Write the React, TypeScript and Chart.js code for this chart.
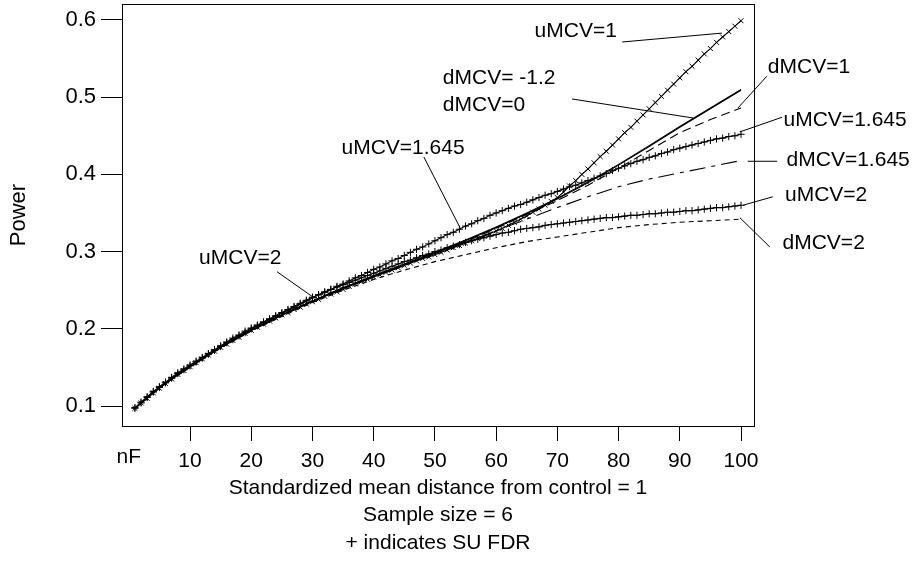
import React, { useEffect, useRef } from "react";
import { Chart, registerables } from "chart.js";

Chart.register(...registerables);

const FONT = "'Liberation Sans', Arial, Helvetica, sans-serif";

// nF = 1..100 (number of false hypotheses) for the SU FDR (marker) series
const nF = Array.from({ length: 100 }, (_, i) => i + 1);
// coarse nF grid for the line-only series
const nFCoarse = [1, 5, 10, 15, 20, 25, 30, 35, 40, 45, 50, 55, 60, 65, 70, 75, 80, 85, 90, 95, 100];

const uMCV1 = [
  0.097, 0.104, 0.110, 0.117, 0.123, 0.129, 0.135, 0.141, 0.146, 0.151,
  0.156, 0.161, 0.166, 0.171, 0.176, 0.180, 0.185, 0.189, 0.194, 0.198,
  0.202, 0.206, 0.210, 0.214, 0.218, 0.221, 0.225, 0.228, 0.232, 0.235,
  0.238, 0.242, 0.245, 0.248, 0.251, 0.255, 0.258, 0.261, 0.264, 0.267,
  0.270, 0.273, 0.276, 0.279, 0.282, 0.285, 0.288, 0.291, 0.293, 0.296,
  0.299, 0.302, 0.305, 0.308, 0.311, 0.314, 0.317, 0.320, 0.323, 0.327,
  0.330, 0.334, 0.338, 0.342, 0.346, 0.351, 0.355, 0.360, 0.365, 0.370,
  0.377, 0.385, 0.392, 0.400, 0.407, 0.415, 0.423, 0.430, 0.438, 0.446,
  0.454, 0.461, 0.469, 0.477, 0.485, 0.493, 0.501, 0.509, 0.517, 0.525,
  0.533, 0.540, 0.548, 0.556, 0.563, 0.571, 0.578, 0.585, 0.592, 0.599,
];

const uMCV1645 = [
  0.097, 0.104, 0.111, 0.118, 0.124, 0.130, 0.136, 0.142, 0.147, 0.152,
  0.157, 0.162, 0.167, 0.172, 0.177, 0.182, 0.186, 0.191, 0.195, 0.200,
  0.204, 0.208, 0.212, 0.216, 0.220, 0.224, 0.228, 0.232, 0.236, 0.240,
  0.244, 0.247, 0.251, 0.255, 0.258, 0.262, 0.266, 0.269, 0.273, 0.277,
  0.280, 0.284, 0.288, 0.291, 0.295, 0.299, 0.303, 0.306, 0.310, 0.314,
  0.318, 0.322, 0.325, 0.329, 0.333, 0.336, 0.340, 0.343, 0.347, 0.350,
  0.353, 0.356, 0.359, 0.361, 0.364, 0.367, 0.370, 0.373, 0.375, 0.378,
  0.381, 0.384, 0.386, 0.389, 0.392, 0.395, 0.398, 0.401, 0.405, 0.408,
  0.411, 0.414, 0.417, 0.419, 0.422, 0.424, 0.427, 0.429, 0.432, 0.434,
  0.436, 0.438, 0.440, 0.442, 0.444, 0.446, 0.447, 0.449, 0.450, 0.452,
];

const uMCV2 = [
  0.098, 0.105, 0.112, 0.119, 0.125, 0.131, 0.137, 0.143, 0.148, 0.153,
  0.158, 0.163, 0.168, 0.173, 0.178, 0.183, 0.188, 0.192, 0.197, 0.201,
  0.205, 0.209, 0.213, 0.217, 0.221, 0.225, 0.229, 0.233, 0.237, 0.241,
  0.244, 0.248, 0.251, 0.254, 0.257, 0.260, 0.263, 0.266, 0.269, 0.272,
  0.275, 0.278, 0.281, 0.284, 0.287, 0.289, 0.292, 0.295, 0.297, 0.300,
  0.302, 0.305, 0.307, 0.309, 0.312, 0.314, 0.316, 0.318, 0.320, 0.322,
  0.324, 0.325, 0.327, 0.329, 0.330, 0.331, 0.332, 0.334, 0.335, 0.336,
  0.337, 0.338, 0.339, 0.340, 0.341, 0.342, 0.343, 0.344, 0.344, 0.345,
  0.346, 0.347, 0.347, 0.348, 0.349, 0.349, 0.350, 0.351, 0.351, 0.352,
  0.353, 0.353, 0.354, 0.355, 0.356, 0.357, 0.357, 0.358, 0.359, 0.360,
];

const dMCVm12 = [0.097, 0.124, 0.151, 0.176, 0.198, 0.218, 0.236, 0.253, 0.268, 0.283, 0.298, 0.314, 0.331, 0.349, 0.368, 0.389, 0.412, 0.436, 0.461, 0.485, 0.509];
const dMCV0 = [0.097, 0.124, 0.151, 0.176, 0.198, 0.218, 0.236, 0.253, 0.269, 0.284, 0.299, 0.315, 0.332, 0.350, 0.369, 0.390, 0.413, 0.437, 0.462, 0.486, 0.510];
const dMCV1 = [0.097, 0.124, 0.151, 0.176, 0.198, 0.218, 0.236, 0.253, 0.268, 0.283, 0.298, 0.313, 0.330, 0.348, 0.366, 0.386, 0.408, 0.431, 0.454, 0.471, 0.486];
const dMCV1645 = [0.097, 0.124, 0.151, 0.176, 0.198, 0.218, 0.236, 0.252, 0.267, 0.282, 0.297, 0.312, 0.327, 0.342, 0.357, 0.371, 0.384, 0.394, 0.402, 0.410, 0.418];
const dMCV2 = [0.097, 0.124, 0.150, 0.175, 0.197, 0.216, 0.234, 0.250, 0.264, 0.276, 0.287, 0.296, 0.305, 0.313, 0.319, 0.325, 0.331, 0.335, 0.338, 0.340, 0.342];

const xTicks = [10, 20, 30, 40, 50, 60, 70, 80, 90, 100];
const yTicks = [0.1, 0.2, 0.3, 0.4, 0.5, 0.6];
const xAxisStartLabel = "nF";
const yAxisTitle = "Power";
const subtitleLines = [
  "Standardized mean distance from control = 1",
  "Sample size = 6",
  "+ indicates SU FDR",
];

// curve labels (positions in data units), with leader lines
type Note = { text: string; x: number; y: number; align?: CanvasTextAlign; from?: [number, number]; to?: [number, number] };
const notes: Note[] = [
  { text: "uMCV=1", x: 73.0, y: 0.586, from: [80.6, 0.5715], to: [96.9, 0.583] },
  { text: "dMCV= -1.2", x: 51.3, y: 0.525, align: "left" },
  { text: "dMCV=0", x: 51.3, y: 0.49, align: "left", from: [72.4, 0.4977], to: [92.2, 0.473] },
  { text: "dMCV=1", x: 111.1, y: 0.539, from: [104.2, 0.527], to: [99.5, 0.486] },
  { text: "uMCV=1.645", x: 117.0, y: 0.47, from: [106.7, 0.474], to: [99.8, 0.455] },
  { text: "dMCV=1.645", x: 117.5, y: 0.419, from: [105.9, 0.417], to: [101.1, 0.417] },
  { text: "uMCV=2", x: 113.9, y: 0.373, from: [105.2, 0.371], to: [100.3, 0.36] },
  { text: "dMCV=2", x: 113.5, y: 0.311, from: [104.7, 0.306], to: [99.8, 0.344] },
  { text: "uMCV=1.645", x: 44.8, y: 0.434, from: [48.2, 0.4225], to: [54.1, 0.331] },
  { text: "uMCV=2", x: 18.2, y: 0.292, from: [24.2, 0.274], to: [30.1, 0.241] },
];

const toXY = (xs: number[], ys: number[]) => xs.map((x, i) => ({ x, y: ys[i] }));

const zeroPad = (s: any) => {
  s.paddingTop = 0;
  s.paddingBottom = 0;
  s.paddingLeft = 0;
  s.paddingRight = 0;
};

const textPlugin = {
  id: "textPlugin",
  afterDraw(chart: any) {
    const { ctx, chartArea: ca, scales } = chart;
    const xs = scales.x;
    const ys = scales.y;
    ctx.save();
    ctx.strokeStyle = "#000";
    ctx.lineWidth = 1;
    ctx.strokeRect(Math.round(ca.left) + 0.5, Math.round(ca.top) + 0.5, Math.round(ca.right - ca.left), Math.round(ca.bottom - ca.top));
    ctx.fillStyle = "#000";
    ctx.font = `21px ${FONT}`;
    ctx.textAlign = "center";
    ctx.textBaseline = "middle";
    ctx.fillText(xAxisStartLabel, xs.getPixelForValue(0), ca.bottom + 31);
    const cx = (ca.left + ca.right) / 2;
    subtitleLines.forEach((t, i) => ctx.fillText(t, cx, ca.bottom + 62 + i * 27.5));
    ctx.save();
    ctx.font = `22px ${FONT}`;
    ctx.translate(19, (ca.top + ca.bottom) / 2);
    ctx.rotate(-Math.PI / 2);
    ctx.fillText(yAxisTitle, 0, 0);
    ctx.restore();
    notes.forEach((n) => {
      ctx.textAlign = n.align || "center";
      ctx.fillText(n.text, xs.getPixelForValue(n.x), ys.getPixelForValue(n.y));
      if (n.from && n.to) {
        ctx.beginPath();
        ctx.moveTo(xs.getPixelForValue(n.from[0]), ys.getPixelForValue(n.from[1]));
        ctx.lineTo(xs.getPixelForValue(n.to[0]), ys.getPixelForValue(n.to[1]));
        ctx.stroke();
      }
    });
    ctx.restore();
  },
};

export default function App() {
  const ref = useRef<HTMLCanvasElement | null>(null);
  useEffect(() => {
    if (!ref.current) return;
    const line = (label: string, xs: number[], ys: number[], dash: number[]) => ({
      label,
      data: toXY(xs, ys),
      borderColor: "#000",
      backgroundColor: "#000",
      borderWidth: 1.1,
      borderDash: dash,
      pointRadius: 0,
      tension: 0,
      fill: false,
    });
    const marked = (label: string, ys: number[], style: string, r: number) => ({
      label,
      data: toXY(nF, ys),
      borderColor: "#000",
      backgroundColor: "#000",
      borderWidth: 1.1,
      pointStyle: style,
      pointRadius: r,
      pointBorderWidth: 1,
      pointBorderColor: "#000",
      tension: 0,
      fill: false,
    });
    const chart = new Chart(ref.current, {
      type: "line",
      data: {
        datasets: [
          line("dMCV=-1.2", nFCoarse, dMCVm12, []),
          line("dMCV=0", nFCoarse, dMCV0, []),
          line("dMCV=1", nFCoarse, dMCV1, [9, 5]),
          line("dMCV=1.645", nFCoarse, dMCV1645, [16, 6, 4, 6]),
          line("dMCV=2", nFCoarse, dMCV2, [5, 4]),
          marked("uMCV=1", uMCV1, "crossRot", 3.5),
          marked("uMCV=1.645", uMCV1645, "cross", 3.6),
          marked("uMCV=2", uMCV2, "cross", 3.6),
        ] as any,
      },
      options: {
        animation: false,
        responsive: false,
        maintainAspectRatio: false,
        layout: { autoPadding: false, padding: { left: 0, top: 4, right: 163, bottom: 77 } },
        plugins: { legend: { display: false }, tooltip: { enabled: false }, title: { display: false } },
        scales: {
          x: {
            type: "linear",
            min: -1.11,
            max: 102.12,
            afterBuildTicks: (s: any) => {
              s.ticks = xTicks.map((v) => ({ value: v }));
            },
            afterFit: (s: any) => {
              s.height = 60;
              zeroPad(s);
            },
            grid: { drawOnChartArea: false, drawTicks: true, tickLength: 15, tickColor: "#000", tickWidth: 1 },
            border: { display: true, color: "#000", width: 1 },
            ticks: { color: "#000", font: { family: FONT, size: 21 }, padding: 8, maxRotation: 0, autoSkip: false },
          },
          y: {
            type: "linear",
            min: 0.0741,
            max: 0.6207,
            afterBuildTicks: (s: any) => {
              s.ticks = yTicks.map((v) => ({ value: v }));
            },
            afterFit: (s: any) => {
              s.width = 122;
              zeroPad(s);
            },
            grid: { drawOnChartArea: false, drawTicks: true, tickLength: 21, tickColor: "#000", tickWidth: 1 },
            border: { display: true, color: "#000", width: 1 },
            ticks: {
              color: "#000",
              font: { family: FONT, size: 22 },
              padding: 5,
              autoSkip: false,
              callback: (v: any) => Number(v).toFixed(1),
            },
          },
        },
      } as any,
      plugins: [textPlugin],
    });
    return () => chart.destroy();
  }, []);
  return (
    <div style={{ position: "absolute", left: 0, top: 0, width: 917, height: 563, background: "#fff" }}>
      <canvas ref={ref} width={917} height={563} style={{ display: "block" }} />
    </div>
  );
}
